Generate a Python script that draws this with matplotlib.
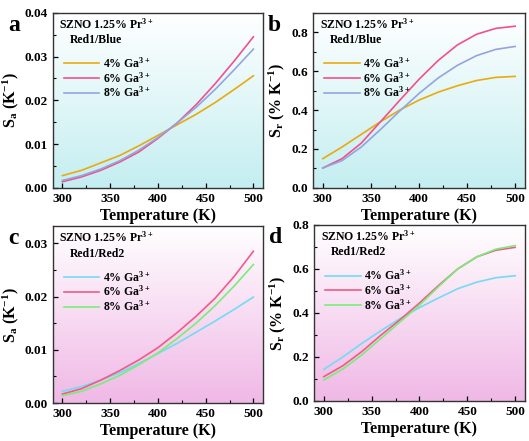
import numpy as np
import matplotlib
matplotlib.use("Agg")
import matplotlib.pyplot as plt
from matplotlib.colors import LinearSegmentedColormap
from matplotlib.ticker import MultipleLocator

plt.rcParams['font.family'] = ['Liberation Serif', 'DejaVu Serif']
plt.rcParams['font.weight'] = 'bold'
plt.rcParams['mathtext.fontset'] = 'custom'
plt.rcParams['mathtext.rm'] = 'Liberation Serif:bold'
plt.rcParams['mathtext.it'] = 'Liberation Serif:bold'
plt.rcParams['mathtext.bf'] = 'Liberation Serif:bold'

# temperature (K)
temp = [300, 320, 340, 360, 380, 400, 420, 440, 460, 480, 500]
labels = ['4% Ga$^{3+}$', '6% Ga$^{3+}$', '8% Ga$^{3+}$']

# a: Sa, Red1/Blue
sa_blue_4 = [0.0028, 0.0040, 0.0057, 0.0074, 0.0096, 0.0120, 0.0144, 0.0168, 0.0195, 0.0225, 0.0256]
sa_blue_6 = [0.0014, 0.0025, 0.0040, 0.0059, 0.0082, 0.0113, 0.0148, 0.0190, 0.0238, 0.0290, 0.0345]
sa_blue_8 = [0.0017, 0.0028, 0.0043, 0.0062, 0.0086, 0.0115, 0.0148, 0.0184, 0.0225, 0.0270, 0.0317]
# b: Sr, Red1/Blue
sr_blue_4 = [0.150, 0.210, 0.275, 0.340, 0.400, 0.451, 0.492, 0.525, 0.552, 0.568, 0.573]
sr_blue_6 = [0.102, 0.150, 0.230, 0.340, 0.450, 0.558, 0.655, 0.735, 0.790, 0.820, 0.831]
sr_blue_8 = [0.102, 0.140, 0.210, 0.300, 0.395, 0.485, 0.565, 0.630, 0.680, 0.712, 0.727]
# c: Sa, Red1/Red2
sa_red_4 = [0.0022, 0.0031, 0.0043, 0.0057, 0.0074, 0.0093, 0.0112, 0.0133, 0.0154, 0.0176, 0.0199]
sa_red_6 = [0.0017, 0.0027, 0.0043, 0.0061, 0.0081, 0.0104, 0.0132, 0.0163, 0.0197, 0.0238, 0.0285]
sa_red_8 = [0.0014, 0.0022, 0.0036, 0.0052, 0.0072, 0.0094, 0.0121, 0.0150, 0.0183, 0.0220, 0.0260]
# d: Sr, Red1/Red2
sr_red_4 = [0.143, 0.200, 0.262, 0.320, 0.375, 0.424, 0.468, 0.510, 0.540, 0.560, 0.569]
sr_red_6 = [0.110, 0.160, 0.225, 0.300, 0.370, 0.445, 0.525, 0.600, 0.655, 0.685, 0.698]
sr_red_8 = [0.095, 0.145, 0.210, 0.285, 0.360, 0.435, 0.520, 0.600, 0.655, 0.690, 0.706]

cols_blue = ['#e8aa10', '#f2508c', '#94a4e0']
cols_red = ['#72dcf2', '#f25a86', '#78ee78']

fig = plt.figure(figsize=(5.29, 4.41), dpi=100)

panels = [
    ('a', [0.100, 0.574, 0.397, 0.397], [sa_blue_4, sa_blue_6, sa_blue_8], cols_blue, 'Red1/Blue',
     'S$_a$ (K$^{-1}$)', (0, 0.04), 0.01, '%.2f', '#c4eef0'),
    ('b', [0.592, 0.574, 0.400, 0.397], [sr_blue_4, sr_blue_6, sr_blue_8], cols_blue, 'Red1/Blue',
     'S$_r$ (% K$^{-1}$)', (0, 0.9), 0.2, '%.1f', '#c4eef0'),
    ('c', [0.100, 0.086, 0.397, 0.401], [sa_red_4, sa_red_6, sa_red_8], cols_red, 'Red1/Red2',
     'S$_a$ (K$^{-1}$)', (0, 0.0332), 0.01, '%.2f', '#f0b8e6'),
    ('d', [0.594, 0.091, 0.398, 0.399], [sr_red_4, sr_red_6, sr_red_8], cols_red, 'Red1/Red2',
     'S$_r$ (% K$^{-1}$)', (0, 0.8), 0.2, '%.1f', '#f0b8e6'),
]

for tag, pos, series, cols, ratio, ylab, ylim, ystep, yfmt, bg in panels:
    ax = fig.add_axes(pos)
    cmap = LinearSegmentedColormap.from_list('bg', ['#ffffff', bg])
    grad = np.linspace(0, 1, 256).reshape(-1, 1)
    ax.imshow(grad, cmap=cmap, aspect='auto', extent=[0, 1, 0, 1],
              transform=ax.transAxes, zorder=0)
    for s, c, lab in zip(series, cols, labels):
        ax.plot(temp, s, color=c, lw=1.2, label=lab, zorder=2)
    ax.set_xlim(290, 510)
    ax.set_ylim(*ylim)
    ax.xaxis.set_major_locator(MultipleLocator(50))
    ax.xaxis.set_minor_locator(MultipleLocator(25))
    ax.yaxis.set_major_locator(MultipleLocator(ystep))
    ax.yaxis.set_minor_locator(MultipleLocator(ystep / 2))
    ax.yaxis.set_major_formatter(plt.FormatStrFormatter(yfmt))
    ax.tick_params(which='both', direction='in', labelsize=9.5)
    ax.tick_params(which='major', length=3.5, width=0.9)
    ax.tick_params(which='minor', length=2, width=0.8)
    for lb in ax.get_xticklabels() + ax.get_yticklabels():
        lb.set_fontweight('bold')
    for sp in ax.spines.values():
        sp.set_linewidth(1.0)
        sp.set_color('#333333')
    ax.set_xlabel('Temperature (K)', fontsize=11.5, fontweight='bold', labelpad=2)
    ax.set_ylabel(ylab, fontsize=11.5, fontweight='bold', labelpad=3)
    ax.text(0.03, 0.935, 'SZNO 1.25% Pr$^{3+}$', transform=ax.transAxes,
            fontsize=8.5, fontweight='bold', va='center', ha='left')
    ax.text(0.08, 0.845, ratio, transform=ax.transAxes,
            fontsize=8.5, fontweight='bold', va='center', ha='left')
    ax.legend(loc='upper left', bbox_to_anchor=(0.03, 0.78), frameon=False,
              prop={'size': 8.5, 'weight': 'bold'}, handlelength=3.0,
              handletextpad=0.3, labelspacing=0.0, borderaxespad=0)
    fig.text(pos[0] - 0.085, pos[1] + pos[3] - 0.005, tag, fontsize=17,
             fontweight='bold', va='top', ha='left')

fig.savefig('out.png', dpi=100)
